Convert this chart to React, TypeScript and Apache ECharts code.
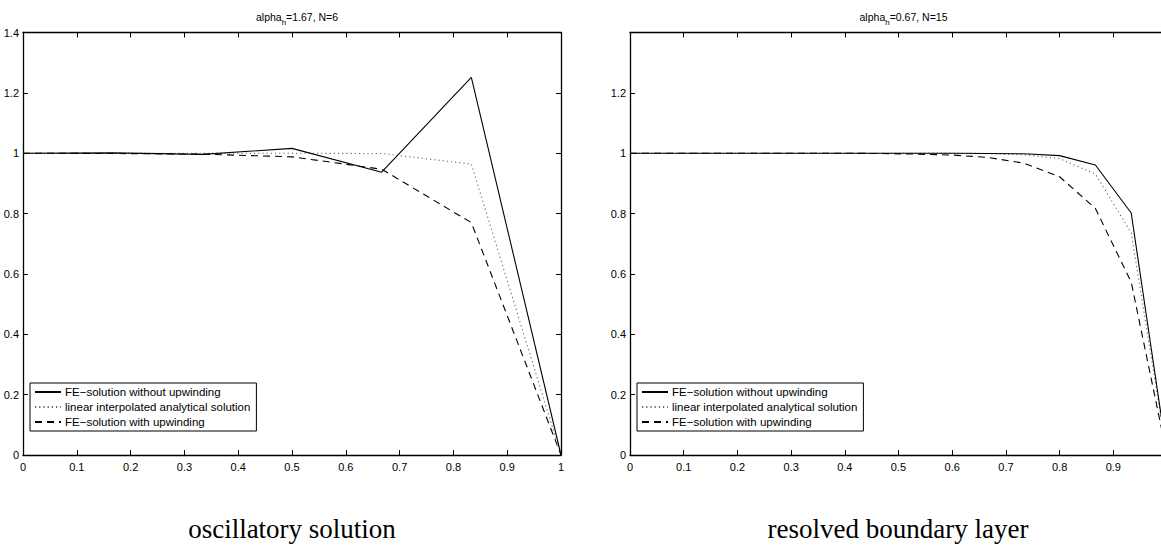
import React, { useEffect, useRef } from "react";
import * as echarts from "echarts";

// Left panel: alpha_h = 1.67, N = 6  (nodes k/6)
const xLeft = [0, 1 / 6, 2 / 6, 3 / 6, 4 / 6, 5 / 6, 1];
const solidLeft = [1, 1.001, 0.996, 1.016, 0.937, 1.251, 0];
const dottedLeft = [1, 1, 1, 1, 0.999, 0.964, 0];
const dashedLeft = [1, 0.999, 0.997, 0.988, 0.947, 0.77, 0];

// Right panel: alpha_h = 0.67, N = 15 (nodes k/15)
const xRight = [0, 1, 2, 3, 4, 5, 6, 7, 8, 9, 10, 11, 12, 13, 14, 15].map((k) => k / 15);
const solidRight = [1, 1, 1, 1, 1, 1, 1, 1, 1, 1, 0.999, 0.998, 0.992, 0.961, 0.802, 0];
const dottedRight = [1, 1, 1, 1, 1, 1, 1, 1, 1, 1, 0.999, 0.995, 0.982, 0.931, 0.736, 0];
const dashedRight = [1, 1, 1, 1, 1, 1, 1, 0.999, 0.997, 0.994, 0.986, 0.967, 0.922, 0.817, 0.573, 0];

const names = [
  "FE\u2212solution without upwinding",
  "linear interpolated analytical solution",
  "FE\u2212solution with upwinding",
];
const titles = [
  ["1.67", "6"],
  ["0.67", "15"],
];
const captions = ["oscillatory solution", "resolved boundary layer"];

const FONT = "Liberation Sans, Arial, Helvetica, sans-serif";

export default function App() {
  const ref = useRef<HTMLDivElement>(null);
  useEffect(() => {
    if (!ref.current) return;
    const chart = echarts.init(ref.current, undefined, { renderer: "svg" });
    const grids = [
      { left: 23, top: 32.5, width: 538, height: 422.5 },
      { left: 630, top: 32.5, width: 537, height: 422.5 },
    ];
    const zip = (xs: number[], ys: number[]) => xs.map((x, i) => [x, ys[i]]);
    const styles: any[] = [
      { color: "#000", width: 1.1, type: "solid" },
      { color: "#666", width: 1.1, type: [1.2, 3] },
      { color: "#000", width: 1.1, type: [7, 5] },
    ];
    const data = [
      [solidLeft, dottedLeft, dashedLeft],
      [solidRight, dottedRight, dashedRight],
    ];
    const xs = [xLeft, xRight];
    const series: any[] = [];
    [0, 1].forEach((g) => {
      data[g].forEach((ys, i) => {
        series.push({
          type: "line",
          name: names[i],
          xAxisIndex: g * 2,
          yAxisIndex: g * 2,
          data: zip(xs[g], ys),
          showSymbol: false,
          symbol: "none",
          lineStyle: styles[i],
          itemStyle: { color: styles[i].color },
          z: 3 - i,
        });
      });
    });
    const axisLine = { show: true, onZero: false, lineStyle: { color: "#000", width: 1.3 } };
    const tick = { show: true, inside: true, length: 5, lineStyle: { color: "#000", width: 1 } };
    const xAxis: any[] = [];
    const yAxis: any[] = [];
    [0, 1].forEach((g) => {
      xAxis.push({
        type: "value",
        gridIndex: g,
        min: 0,
        max: 1,
        interval: 0.1,
        position: "bottom",
        axisLine,
        axisTick: tick,
        splitLine: { show: false },
        axisLabel: {
          color: "#000",
          fontSize: 11,
          fontFamily: FONT,
          margin: 6,
          // the right panel's last label lies beyond the cropped edge
          formatter: (v: number) => (g === 1 && v > 0.95 ? "" : String(Math.round(v * 10) / 10)),
        },
      });
      xAxis.push({
        type: "value",
        gridIndex: g,
        min: 0,
        max: 1,
        interval: 0.1,
        position: "top",
        axisLine,
        axisTick: tick,
        splitLine: { show: false },
        axisLabel: { show: false },
      });
      yAxis.push({
        type: "value",
        gridIndex: g,
        min: 0,
        max: 1.4,
        interval: 0.2,
        position: "left",
        axisLine,
        axisTick: tick,
        splitLine: { show: false },
        axisLabel: {
          color: "#000",
          fontSize: 11,
          fontFamily: FONT,
          margin: 4,
          formatter: (v: number) => (g === 1 && v > 1.3 ? "" : String(Math.round(v * 10) / 10)),
        },
      });
      yAxis.push({
        type: "value",
        gridIndex: g,
        min: 0,
        max: 1.4,
        interval: 0.2,
        position: "right",
        axisLine,
        axisTick: tick,
        splitLine: { show: false },
        axisLabel: { show: false },
      });
    });
    const legendBase = {
      orient: "vertical",
      top: 383,
      data: names,
      itemWidth: 26,
      itemHeight: 11,
      itemGap: 3,
      padding: [3, 6, 3, 4],
      borderColor: "#000",
      borderWidth: 1,
      borderRadius: 0,
      backgroundColor: "#fff",
      selectedMode: false,
      itemStyle: { opacity: 0, borderWidth: 0 },
      textStyle: { color: "#000", fontSize: 11.5, fontFamily: FONT, padding: [0, 0, 0, -1] },
    };
    chart.setOption({
      animation: false,
      backgroundColor: "#fff",
      grid: grids.map((g) => ({ ...g, containLabel: false })),
      xAxis,
      yAxis,
      series,
      legend: [
        { ...legendBase, left: 30 },
        { ...legendBase, left: 637 },
      ],
      title: [0, 1].map((g) => ({
        text: `{a|alpha}{s|h}{a|=${titles[g][0]}, N=${titles[g][1]}}`,
        left: grids[g].left + grids[g].width / 2,
        top: 3,
        textAlign: "center",
        textStyle: {
          fontWeight: "normal",
          rich: {
            a: { fontSize: 10.5, fontWeight: "normal", fontFamily: FONT, color: "#000", lineHeight: 14, verticalAlign: "bottom" },
            s: { fontSize: 8, fontWeight: "normal", fontFamily: FONT, color: "#000", lineHeight: 14, verticalAlign: "bottom", padding: [0, 0, -4, 0] },
          },
        },
      })),
      graphic: [0, 1].map((g) => ({
        type: "text",
        x: g === 0 ? 292 : 898,
        y: 529,
        style: {
          text: captions[g],
          fill: "#000",
          font: '27px "Liberation Serif", "DejaVu Serif", serif',
          textAlign: "center",
          textVerticalAlign: "middle",
        },
      })),
    });
    return () => chart.dispose();
  }, []);
  return (
    <div style={{ position: "fixed", left: 0, top: 0, width: 1161, height: 550, overflow: "hidden", background: "#fff" }}>
      <div ref={ref} style={{ width: 1180, height: 550 }} />
    </div>
  );
}
